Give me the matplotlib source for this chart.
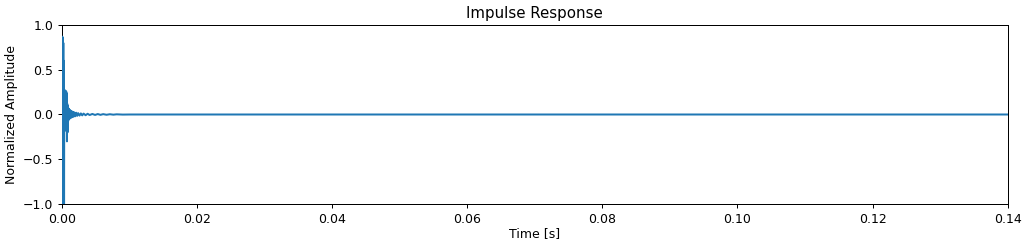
import numpy as np
import matplotlib.pyplot as plt

# Impulse response (time in ms, normalized amplitude)
t_ms = [0.00, 0.04, 0.08, 0.12, 0.16, 0.20, 0.24, 0.28, 0.31, 0.34,
        0.37, 0.40, 0.43, 0.46, 0.50, 0.54, 0.58, 0.62, 0.66, 0.70,
        0.74, 0.78, 0.82, 0.86, 0.90, 0.95, 1.00, 1.05, 1.10, 1.20,
        1.30, 1.40, 1.50, 1.60, 1.70, 1.80, 1.95, 2.10, 2.25, 2.40,
        2.60, 2.80, 3.00, 3.20, 3.50, 3.80, 4.10, 4.50, 4.90, 5.30,
        5.70, 6.10, 6.60, 7.10, 7.60, 8.10, 9.00, 10.0, 140.0]
amp = [0.00, 0.87, -1.00, 0.86, -1.00, 0.80, -1.00, 0.60, -1.00, 0.27,
       -0.12, 0.26, -0.15, 0.27, -0.10, 0.25, -0.18, 0.26, -0.12, 0.24,
       -0.30, 0.12, -0.20, 0.10, -0.08, 0.07, -0.06, 0.06, -0.05, 0.05,
       -0.04, 0.04, -0.03, 0.03, -0.025, 0.025, -0.02, 0.02, -0.015, 0.015,
       -0.012, 0.012, -0.01, 0.01, -0.008, 0.008, -0.006, 0.006, -0.005, 0.005,
       -0.004, 0.004, -0.003, 0.003, -0.002, 0.002, -0.001, 0.0, 0.0]

t = np.array(t_ms) / 1000.0

fig = plt.figure(figsize=(1024 / 90, 244 / 90), dpi=90)
ax = fig.add_axes([0.0605, 0.164, 0.9235, 0.7335])
ax.plot(t, amp, color='#1f77b4', lw=1.6, zorder=3)
ax.set_xlim(0, 0.14)
ax.set_ylim(-1, 1)
ax.set_title('Impulse Response')
ax.set_xlabel('Time [s]', labelpad=1)
ax.set_ylabel('Normalized Amplitude')
fig.savefig('out.png', dpi=90)
